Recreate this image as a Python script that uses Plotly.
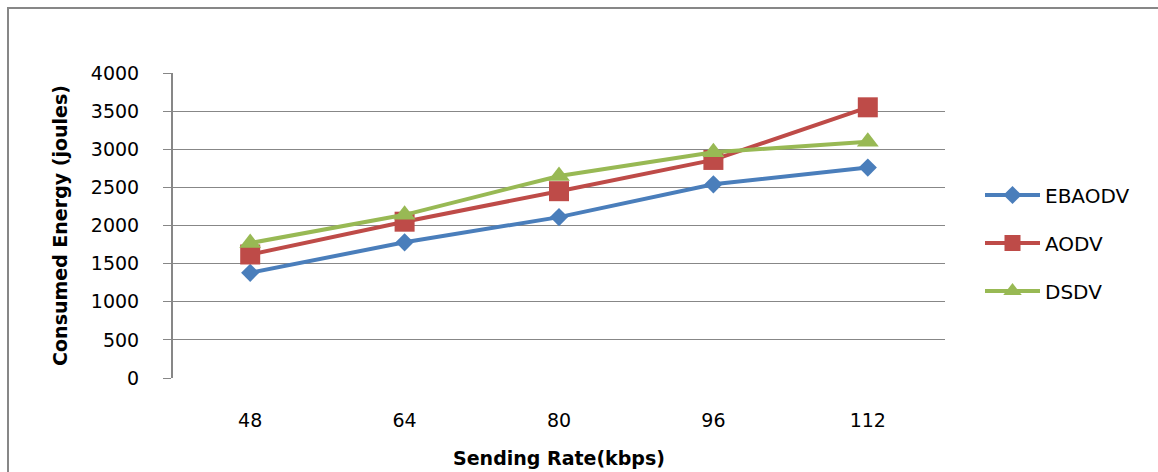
import plotly.graph_objects as go

categories = ["48", "64", "80", "96", "112"]
ebaodv = [1380, 1780, 2110, 2540, 2760]
aodv = [1620, 2050, 2450, 2860, 3550]
dsdv = [1770, 2140, 2650, 2960, 3100]
y_ticks = [0, 500, 1000, 1500, 2000, 2500, 3000, 3500, 4000]

FONT = "DejaVu Sans"
GRID = "#878787"

fig = go.Figure()
series = [
    ("EBAODV", ebaodv, "#4A7EBB", "diamond", 14),
    ("AODV", aodv, "#BE4B48", "square", 20),
    ("DSDV", dsdv, "#98B954", "triangle-up", 19),
]
for i, (name, vals, col, sym, sz) in enumerate(series):
    fig.add_trace(go.Scatter(
        x=categories, y=vals, name=name, mode="lines+markers",
        line=dict(color=col, width=4),
        marker=dict(symbol=sym, size=sz, color=col, line=dict(width=0)),
        legendgroup=name,
    ))

fig.update_layout(
    width=1158, height=472,
    margin=dict(l=173, r=213, t=73, b=94, autoexpand=False),
    paper_bgcolor="white", plot_bgcolor="white",
    font=dict(family=FONT, size=19, color="black"),
    legend=dict(
        x=(980 - 173) / 772, y=0.4426, xanchor="left", yanchor="middle",
        font=dict(family=FONT, size=20, color="black"),
        tracegroupgap=19, itemwidth=55, bgcolor="rgba(0,0,0,0)",
    ),
    xaxis=dict(
        type="category", range=[-0.5, 4.5],
        showgrid=False, showline=False, ticks="", zeroline=False,
        ticklabelstandoff=29,
        tickfont=dict(family=FONT, size=19),
        title=dict(text="<b>Sending Rate(kbps)</b>", standoff=21,
                   font=dict(family=FONT, size=19)),
    ),
    yaxis=dict(
        range=[0, 4000], tickvals=y_ticks, ticktext=[str(v) for v in y_ticks],
        showgrid=True, gridcolor=GRID, gridwidth=1,
        showline=True, linecolor=GRID, linewidth=2,
        ticks="outside", ticklen=8, tickcolor=GRID, tickwidth=1,
        ticklabelstandoff=20, zeroline=False,
        tickfont=dict(family=FONT, size=19),
        title=dict(text="<b>Consumed Energy (joules)</b>", standoff=18,
                   font=dict(family=FONT, size=19)),
    ),
    shapes=[
        dict(type="rect", xref="paper", yref="paper",
             x0=(8 - 173) / 772, x1=2.0, y0=-1.0, y1=(378 - 8) / 305,
             line=dict(color=GRID, width=2), fillcolor="rgba(0,0,0,0)", layer="below"),
    ],
)

fig.write_html("out.html")
